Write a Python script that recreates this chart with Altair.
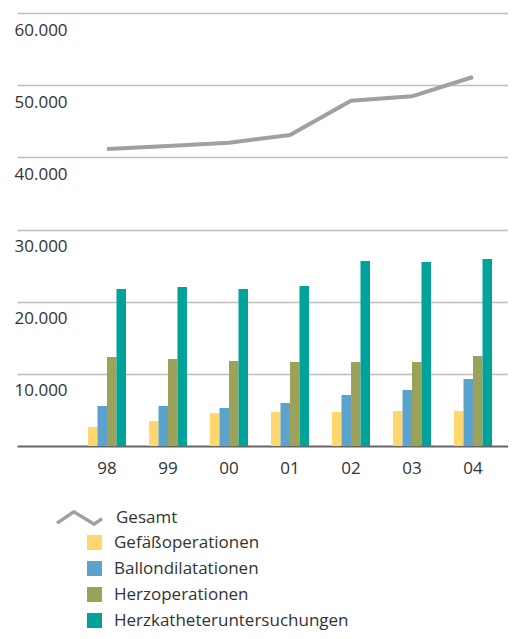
import altair as alt
import pandas as pd

jahre = ["98", "99", "00", "01", "02", "03", "04"]
gesamt = [41150, 41570, 42030, 43100, 47850, 48450, 51130]
gefaess = [2630, 3460, 4570, 4710, 4710, 4850, 4850]
ballon = [5540, 5540, 5270, 5960, 7070, 7760, 9280]
herzop = [12330, 12060, 11780, 11640, 11640, 11640, 12470]
katheter = [21760, 22030, 21760, 22170, 25640, 25500, 25910]

kategorien = ["Gefäßoperationen", "Ballondilatationen", "Herzoperationen",
              "Herzkatheteruntersuchungen"]
farben = ["#FFD76E", "#5BA3CC", "#9CA25A", "#00A29A"]
y_ticks = [10000, 20000, 30000, 40000, 50000, 60000]

rows = []
for serie, werte in zip(kategorien, [gefaess, ballon, herzop, katheter]):
    for j, w in zip(jahre, werte):
        rows.append({"jahr": j, "kategorie": serie, "wert": w})
bars_df = pd.DataFrame(rows)
line_df = pd.DataFrame({"jahr": jahre, "wert": gesamt, "serie": ["Gesamt"] * len(jahre)})

FONT = "Open Sans"
TXT = "#333333"

x_enc = alt.X(
    "jahr:N", sort=jahre,
    scale=alt.Scale(paddingInner=0.377, paddingOuter=0.713, align=0.816),
    axis=alt.Axis(title=None, labelAngle=0, ticks=False, tickSize=0, domain=True,
                  domainColor="#666666", domainWidth=2, labelPadding=14,
                  labelFontSize=17, labelColor=TXT, labelFont=FONT, grid=False),
)
y_enc = alt.Y(
    "wert:Q",
    scale=alt.Scale(domain=[0, 60000], nice=False),
    axis=alt.Axis(title=None, values=y_ticks,
                  labelExpr="replace(format(datum.value, ','), ',', '.')",
                  orient="left", domain=False, ticks=False, tickSize=0,
                  labelAlign="left", labelBaseline="alphabetic", labelPadding=3,
                  labelOffset=22, gridColor="#BDBDBD", gridWidth=1.5,
                  labelFontSize=17, labelColor=TXT, labelFont=FONT),
)

bars = alt.Chart(bars_df).mark_bar().encode(
    x=x_enc,
    y=y_enc,
    xOffset=alt.XOffset("kategorie:N", sort=kategorien,
                        scale=alt.Scale(paddingInner=0, paddingOuter=0)),
    fill=alt.Fill("kategorie:N", sort=kategorien,
                  scale=alt.Scale(domain=kategorien, range=farben),
                  legend=alt.Legend(title=None, orient="none", legendX=69, legendY=521,
                                    symbolType="square", symbolSize=225,
                                    symbolStrokeWidth=0, labelFontSize=17,
                                    labelFont=FONT, labelColor=TXT, labelOffset=11,
                                    labelLimit=0, rowPadding=8, padding=0)),
)

line = alt.Chart(line_df).mark_line(strokeWidth=4).encode(
    x=alt.X("jahr:N", sort=jahre),
    y=alt.Y("wert:Q"),
    stroke=alt.Stroke("serie:N",
                      scale=alt.Scale(domain=["Gesamt"], range=["#A0A0A0"]),
                      legend=alt.Legend(title=None, orient="none", legendX=38, legendY=480,
                                        symbolType="M-1,0.25L-0.25,-0.25L0.65,0.3L1,0.05",
                                        symbolSize=2025, symbolStrokeWidth=3.5,
                                        symbolFillColor="transparent",
                                        labelFontSize=17, labelFont=FONT, labelLimit=0,
                                        labelColor=TXT, labelOffset=12, padding=0)),
)

chart = alt.layer(bars, line).properties(
    width=491, height=433,
    autosize=alt.AutoSizeParams(type="none"),
    padding={"left": 9, "top": 5, "right": 0, "bottom": 185},
).configure_view(stroke=None)

chart.save("out.html", embed_options={"renderer": "svg", "actions": False})
